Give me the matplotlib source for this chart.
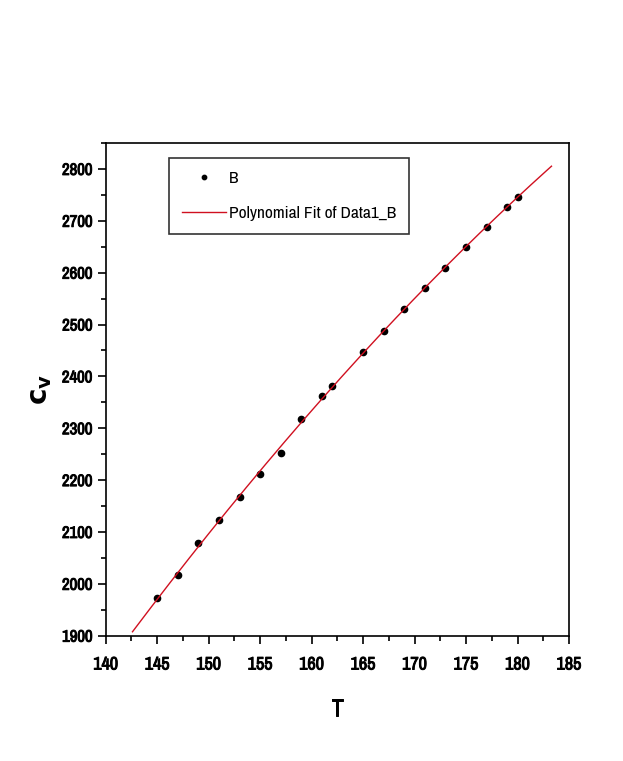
import matplotlib
matplotlib.use("Agg")
import matplotlib.pyplot as plt
import matplotlib.patheffects as pe
import numpy as np
from matplotlib.ticker import MultipleLocator
from matplotlib import font_manager

names = sorted(set(f.name for f in font_manager.fontManager.ttflist))
cond = [n for n in names if 'Cond' in n or 'Narrow' in n]
fam = cond[0] if cond else 'Liberation Sans'
plt.rcParams['font.family'] = [fam, 'Liberation Sans', 'DejaVu Sans']

# data
T = [145, 147, 149, 151, 153, 155, 157, 159, 161, 162, 165, 167, 169, 171, 173, 175, 177, 179, 180]
B = [1973, 2017, 2078, 2123, 2167, 2212, 2252, 2318, 2362, 2382, 2447, 2488, 2530, 2570, 2609, 2650, 2688, 2727, 2746]
fit_range = [142.6, 183.3]

fig = plt.figure(figsize=(6.23, 7.61), dpi=100)
ax = fig.add_axes([0.1697, 0.1647, 0.7436, 0.6474])

coef = np.polyfit(T, B, 2)
tf = np.linspace(fit_range[0], fit_range[1], 200)
ax.plot(T, B, 'o', color='black', ms=4.5, label='B')
ax.plot(tf, np.polyval(coef, tf), color='#d01020', lw=1, label='Polynomial Fit of Data1_B')

ax.set_xlim(140, 185)
ax.set_ylim(1900, 2850)
ax.xaxis.set_major_locator(MultipleLocator(5))
ax.xaxis.set_minor_locator(MultipleLocator(2.5))
ax.yaxis.set_major_locator(MultipleLocator(100))
ax.yaxis.set_minor_locator(MultipleLocator(50))
ax.tick_params(which='major', direction='out', length=6, width=1.2, labelsize=13)
ax.tick_params(which='minor', direction='out', length=3.5, width=1.2)
ax.tick_params(axis='x', pad=9)
ax.tick_params(axis='y', labelsize=12)
bold = [pe.withStroke(linewidth=0.7, foreground='black')]
for lab in ax.get_xticklabels() + ax.get_yticklabels():
    lab.set_path_effects(bold)
for s in ax.spines.values():
    s.set_linewidth(1.2)

ax.set_xlabel('T', fontsize=18, labelpad=18, path_effects=bold)
ax.set_ylabel(r'$\mathbf{c}_\mathbf{v}$', fontsize=20, labelpad=6)

leg = ax.legend(loc='upper left', bbox_to_anchor=(0.137, 0.97), fontsize=12.5,
                frameon=True, fancybox=False, edgecolor='black', handlelength=2.5,
                handletextpad=0.2, borderpad=0.75, labelspacing=1.15, markerscale=0.7,
                borderaxespad=0)
leg.get_frame().set_linewidth(1.2)

fig.savefig('out.png', dpi=100)
